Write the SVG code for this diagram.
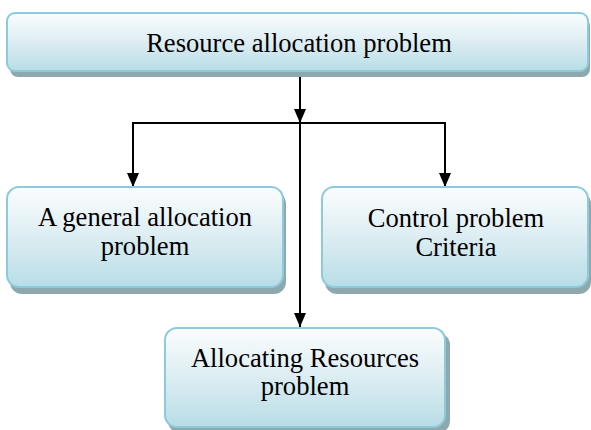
<svg xmlns="http://www.w3.org/2000/svg" width="591" height="430" viewBox="0 0 591 430">
<defs>
<linearGradient id="g" x1="0" y1="0" x2="0" y2="1">
<stop offset="0" stop-color="#fbfdfe"/>
<stop offset="0.5" stop-color="#dcedf2"/>
<stop offset="1" stop-color="#b8dde6"/>
</linearGradient>
<marker id="arr" markerWidth="14" markerHeight="12" refX="14" refY="6" orient="auto" markerUnits="userSpaceOnUse">
<path d="M0,0 L14,6 L0,12 Z" fill="#000"/>
</marker>
</defs>
<style>
.shadow{fill:#8ea9ae}
.box{fill:url(#g);stroke:#8ccbdb;stroke-width:2}
.t{font-family:'Liberation Serif','Times New Roman',serif;font-size:26.6px;fill:#000;text-anchor:middle}
.c{stroke:#000;stroke-width:2;fill:none}
</style>
<g id="connectors">
<line class="c" x1="300" y1="72" x2="300" y2="123" marker-end="url(#arr)"/>
<polyline class="c" points="133,123 445,123"/>
<line class="c" x1="133" y1="122" x2="133" y2="187" marker-end="url(#arr)"/>
<line class="c" x1="445" y1="122" x2="445" y2="187" marker-end="url(#arr)"/>
<line class="c" x1="300" y1="123" x2="300" y2="327" marker-end="url(#arr)"/>
</g>
<g id="top">
<rect class="shadow" x="10" y="18" width="580" height="59" rx="8"/>
<rect class="box" x="7" y="13" width="581" height="58" rx="8"/>
<text class="t" x="299" y="52">Resource allocation problem</text>
</g>
<g id="general">
<rect class="shadow" x="10" y="192" width="276" height="102" rx="12"/>
<rect class="box" x="7" y="187" width="276" height="100" rx="12"/>
<text class="t" x="145" y="226">A general allocation</text>
<text class="t" x="145" y="255">problem</text>
</g>
<g id="control">
<rect class="shadow" x="325" y="192" width="266" height="102" rx="12"/>
<rect class="box" x="322" y="187" width="266" height="100" rx="12"/>
<text class="t" x="456" y="227">Control problem</text>
<text class="t" x="456" y="256">Criteria</text>
</g>
<g id="allocating">
<rect class="shadow" x="168" y="333" width="282" height="100" rx="12"/>
<rect class="box" x="165" y="328" width="280" height="99" rx="12"/>
<text class="t" x="305" y="367">Allocating Resources</text>
<text class="t" x="305" y="395">problem</text>
</g>
</svg>
